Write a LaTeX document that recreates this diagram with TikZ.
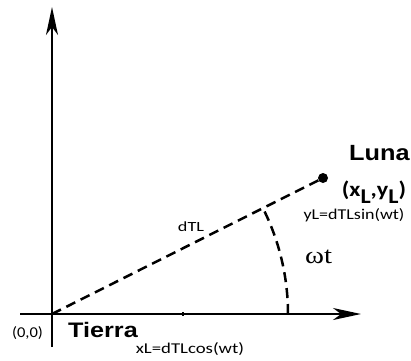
\documentclass[tikz,border=0pt]{standalone}
\usepackage{fontspec}
\setmainfont{Liberation Sans}
\newfontfamily\serifw{Liberation Serif}
\newfontfamily\carlitofont{Carlito}
\usetikzlibrary{arrows.meta}
\begin{document}
\begin{tikzpicture}[x=1pt,y=-1pt,
  axis/.style={line width=1.8pt,-{Stealth[length=28pt,width=12pt,inset=8pt]}},
  dsh/.style={line width=2.5pt,dash pattern=on 10pt off 6pt},
  small/.style={font=\carlitofont\fontsize{15}{17}\selectfont,inner sep=0pt},
  ]
\useasboundingbox (0,0) rectangle (411,360);
\coordinate (O) at (52,314);
\coordinate (xend) at (361,314);
\coordinate (xstart) at (20,314);
\coordinate (ystart) at (52,347);
\coordinate (yend) at (52,7);
\draw[axis] (xstart) -- (xend);
\draw[axis] (ystart) -- (yend);
\node[circle,fill=black,inner sep=0pt,minimum size=10pt] (moon) at (323,178) {};
\draw[dsh] (O) -- (moon);
\draw[dsh] (288,314) arc[start angle=0,end angle=-26.9,radius=236];
\draw[line width=1.2pt] (183,312) -- (183,316);
\node[font=\bfseries\fontsize{22}{24}\selectfont,inner sep=0pt,anchor=base west] (luna) at (349,160) {\scalebox{1.15}[1]{Luna}};
\node[font=\carlitofont\bfseries\fontsize{21}{22}\selectfont,inner sep=0pt] (coord) at (374,192) {\scalebox{1.15}[1]{(x\raisebox{-7pt}{L},y\raisebox{-7pt}{L})}};
\node[small] (yl) at (354,215) {\scalebox{1.2}[1]{yL=dTLsin(wt)}};
\node[font=\serifw\fontsize{24}{26}\selectfont,inner sep=0pt,anchor=base west] (wt) at (305,263) {\scalebox{1.2}[1]{ωt}};
\node[small,font=\carlitofont\fontsize{14}{16}\selectfont] (dtl) at (191,227) {\scalebox{1.3}[1]{dTL}};
\node[small] (orig) at (27.5,333) {\scalebox{1.1}[1]{(0,0)}};
\node[font=\bfseries\fontsize{21}{24}\selectfont,inner sep=0pt,anchor=base west] (tierra) at (68,337) {\scalebox{1.2}[1]{Tierra}};
\node[small] (xl) at (190,349) {\scalebox{1.25}[1]{xL=dTLcos(wt)}};
\end{tikzpicture}
\end{document}
